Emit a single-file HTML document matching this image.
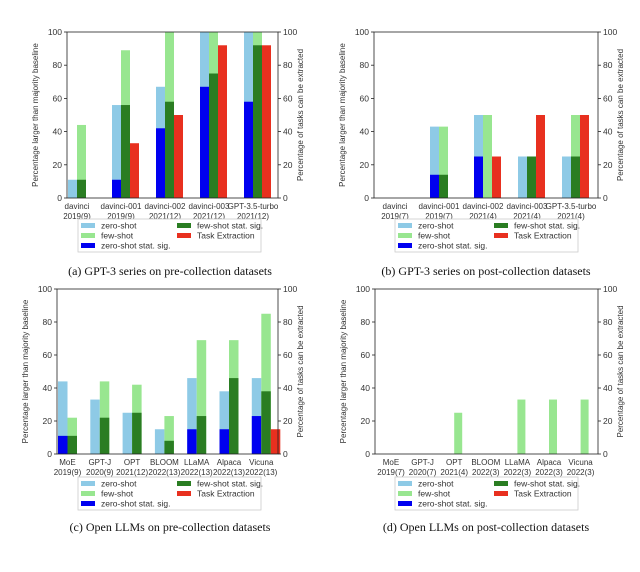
<!DOCTYPE html>
<html><head><meta charset="utf-8"><style>
body{margin:0;background:#fff;width:640px;height:567px;overflow:hidden}
svg text{font-family:"Liberation Sans",sans-serif;fill:#333}
.cap{font-family:"Liberation Serif",serif;fill:#111}
</style></head><body>
<svg id="fig" width="640" height="567" viewBox="0 0 640 567" xmlns="http://www.w3.org/2000/svg"></svg>
<script>
// Panel (a)
const catsA = ["davinci|2019(9)","davinci-001|2019(9)","davinci-002|2021(12)","davinci-003|2021(12)","GPT-3.5-turbo|2021(12)"];
const zsA = [11,56,67,100,100];
const zsSigA = [0,11,42,67,58];
const fsA = [44,89,100,100,100];
const fsSigA = [11,56,58,75,92];
const taskA = [0,33,50,92,92];
// Panel (b)
const catsB = ["davinci|2019(7)","davinci-001|2019(7)","davinci-002|2021(4)","davinci-003|2021(4)","GPT-3.5-turbo|2021(4)"];
const zsB = [0,43,50,25,25];
const zsSigB = [0,14,25,0,0];
const fsB = [0,43,50,25,50];
const fsSigB = [0,14,0,25,25];
const taskB = [0,0,25,50,50];
// Panel (c)
const catsC = ["MoE|2019(9)","GPT-J|2020(9)","OPT|2021(12)","BLOOM|2022(13)","LLaMA|2022(13)","Alpaca|2022(13)","Vicuna|2022(13)"];
const zsC = [44,33,25,15,46,38,46];
const zsSigC = [11,0,0,0,15,15,23];
const fsC = [22,44,42,23,69,69,85];
const fsSigC = [11,22,25,8,23,46,38];
const taskC = [0,0,0,0,0,0,15];
// Panel (d)
const catsD = ["MoE|2019(7)","GPT-J|2020(7)","OPT|2021(4)","BLOOM|2022(3)","LLaMA|2022(3)","Alpaca|2022(3)","Vicuna|2022(3)"];
const zsD = [0,0,0,0,0,0,0];
const zsSigD = [0,0,0,0,0,0,0];
const fsD = [0,0,25,0,33,33,33];
const fsSigD = [0,0,0,0,0,0,0];
const taskD = [0,0,0,0,0,0,0];
const yTicks = [0,20,40,60,80,100];

const NS="http://www.w3.org/2000/svg";
const svg=document.getElementById('fig');
function mk(tag,attrs,parent){const e=document.createElementNS(NS,tag);for(const k in attrs)e.setAttribute(k,attrs[k]);(parent||svg).appendChild(e);return e;}
const COL={zs:"#8ecae6",fs:"#98e690",zsSig:"#0000f0",fsSig:"#2a7d22",task:"#e8301f"};

function panel(id,cfg,cats,zs,zsSig,fs,fsSig,task,caption){
  const g=mk('g',{});
  
  
  const {L,R,T,B,x0,sp,bw}=cfg;
  const y=v=>B-(v/100)*(B-T);
  const xs=i=>x0+i*sp;
  cats.forEach((c,i)=>{
    const bars=[["zs",zs[i],0],["zsSig",zsSig[i],0],["fs",fs[i],1],["fsSig",fsSig[i],1],["task",task[i],2]];
    bars.forEach(([k,v,pos])=>{
      if(v<=0)return;
      const r=mk('rect',{x:xs(i)+pos*bw,y:y(v),width:bw,height:B-y(v),fill:COL[k]},g);
      
      
    });
    const parts=c.split('|');const cx=xs(i)+bw;
    const t=mk('text',{x:cx,y:B+11,'font-size':8,'text-anchor':'middle'},g);
    
    
    const s1=mk('tspan',{x:cx},t);s1.textContent=parts[0];
    const s2=mk('tspan',{x:cx,dy:10},t);s2.textContent=parts[1];
  });
  mk('rect',{x:L,y:T,width:R-L,height:B-T,fill:'none',stroke:'#222','stroke-width':0.8},g);
  yTicks.forEach(v=>{
    mk('line',{x1:L-3,x2:L,y1:y(v),y2:y(v),stroke:'#222','stroke-width':0.8},g);
    mk('line',{x1:R,x2:R+3,y1:y(v),y2:y(v),stroke:'#222','stroke-width':0.8},g);
    const a=mk('text',{x:L-5,y:y(v)+3,'font-size':8.5,'text-anchor':'end'},g);a.textContent=v;
    
    
    const b=mk('text',{x:R+5,y:y(v)+3,'font-size':8.5},g);b.textContent=v;
    
    
  });
  const my=(T+B)/2;
  const lt=mk('text',{x:L-29,y:my,'font-size':8,'text-anchor':'middle',transform:`rotate(-90 ${L-29} ${my})`},g);
  lt.textContent="Percentage larger than majority baseline";
  
  
  const rt=mk('text',{x:R+25,y:my,'font-size':8,'text-anchor':'middle',transform:`rotate(-90 ${R+25} ${my})`},g);
  rt.textContent="Percentage of tasks can be extracted";
  
  
  const lx=cfg.lx,ly=cfg.ly;
  const lg=mk('g',{},g);
  
  
  mk('rect',{x:lx,y:ly,width:183,height:33,fill:'#fff',stroke:'#ccc','stroke-width':0.8},lg);
  const ents=[["zs","zero-shot",0,0],["fs","few-shot",0,1],["zsSig","zero-shot stat. sig.",0,2],["fsSig","few-shot stat. sig.",1,0],["task","Task Extraction",1,1]];
  ents.forEach(([k,lab,col,row])=>{
    const ex=lx+3+col*96, ey=ly+4+row*10;
    const sw=mk('rect',{x:ex,y:ey,width:14,height:5,fill:COL[k]},lg);
    
    
    const tt=mk('text',{x:ex+20,y:ey+5.5,'font-size':8.5},lg);tt.textContent=lab;
    
    
  });
  const cp=mk('text',{x:cfg.cx,y:cfg.cy,'font-size':12,'text-anchor':'middle','class':'cap'},g);
  cp.textContent=caption;
  
  
}
panel('a',{L:67,R:278,T:32,B:198,x0:68,sp:44,bw:9,lx:78,ly:219,cx:170,cy:275},catsA,zsA,zsSigA,fsA,fsSigA,taskA,"(a) GPT-3 series on pre-collection datasets");
panel('b',{L:374,R:598,T:32,B:198,x0:386,sp:44,bw:9,lx:395,ly:219,cx:486,cy:275},catsB,zsB,zsSigB,fsB,fsSigB,taskB,"(b) GPT-3 series on post-collection datasets");
panel('c',{L:57,R:278,T:289,B:454,x0:58,sp:32.3,bw:9.5,lx:78,ly:477,cx:170,cy:531},catsC,zsC,zsSigC,fsC,fsSigC,taskC,"(c) Open LLMs on pre-collection datasets");
panel('d',{L:375,R:598,T:289,B:454,x0:383,sp:31.6,bw:8,lx:395,ly:477,cx:486,cy:531},catsD,zsD,zsSigD,fsD,fsSigD,taskD,"(d) Open LLMs on post-collection datasets");
</script>
</body></html>
